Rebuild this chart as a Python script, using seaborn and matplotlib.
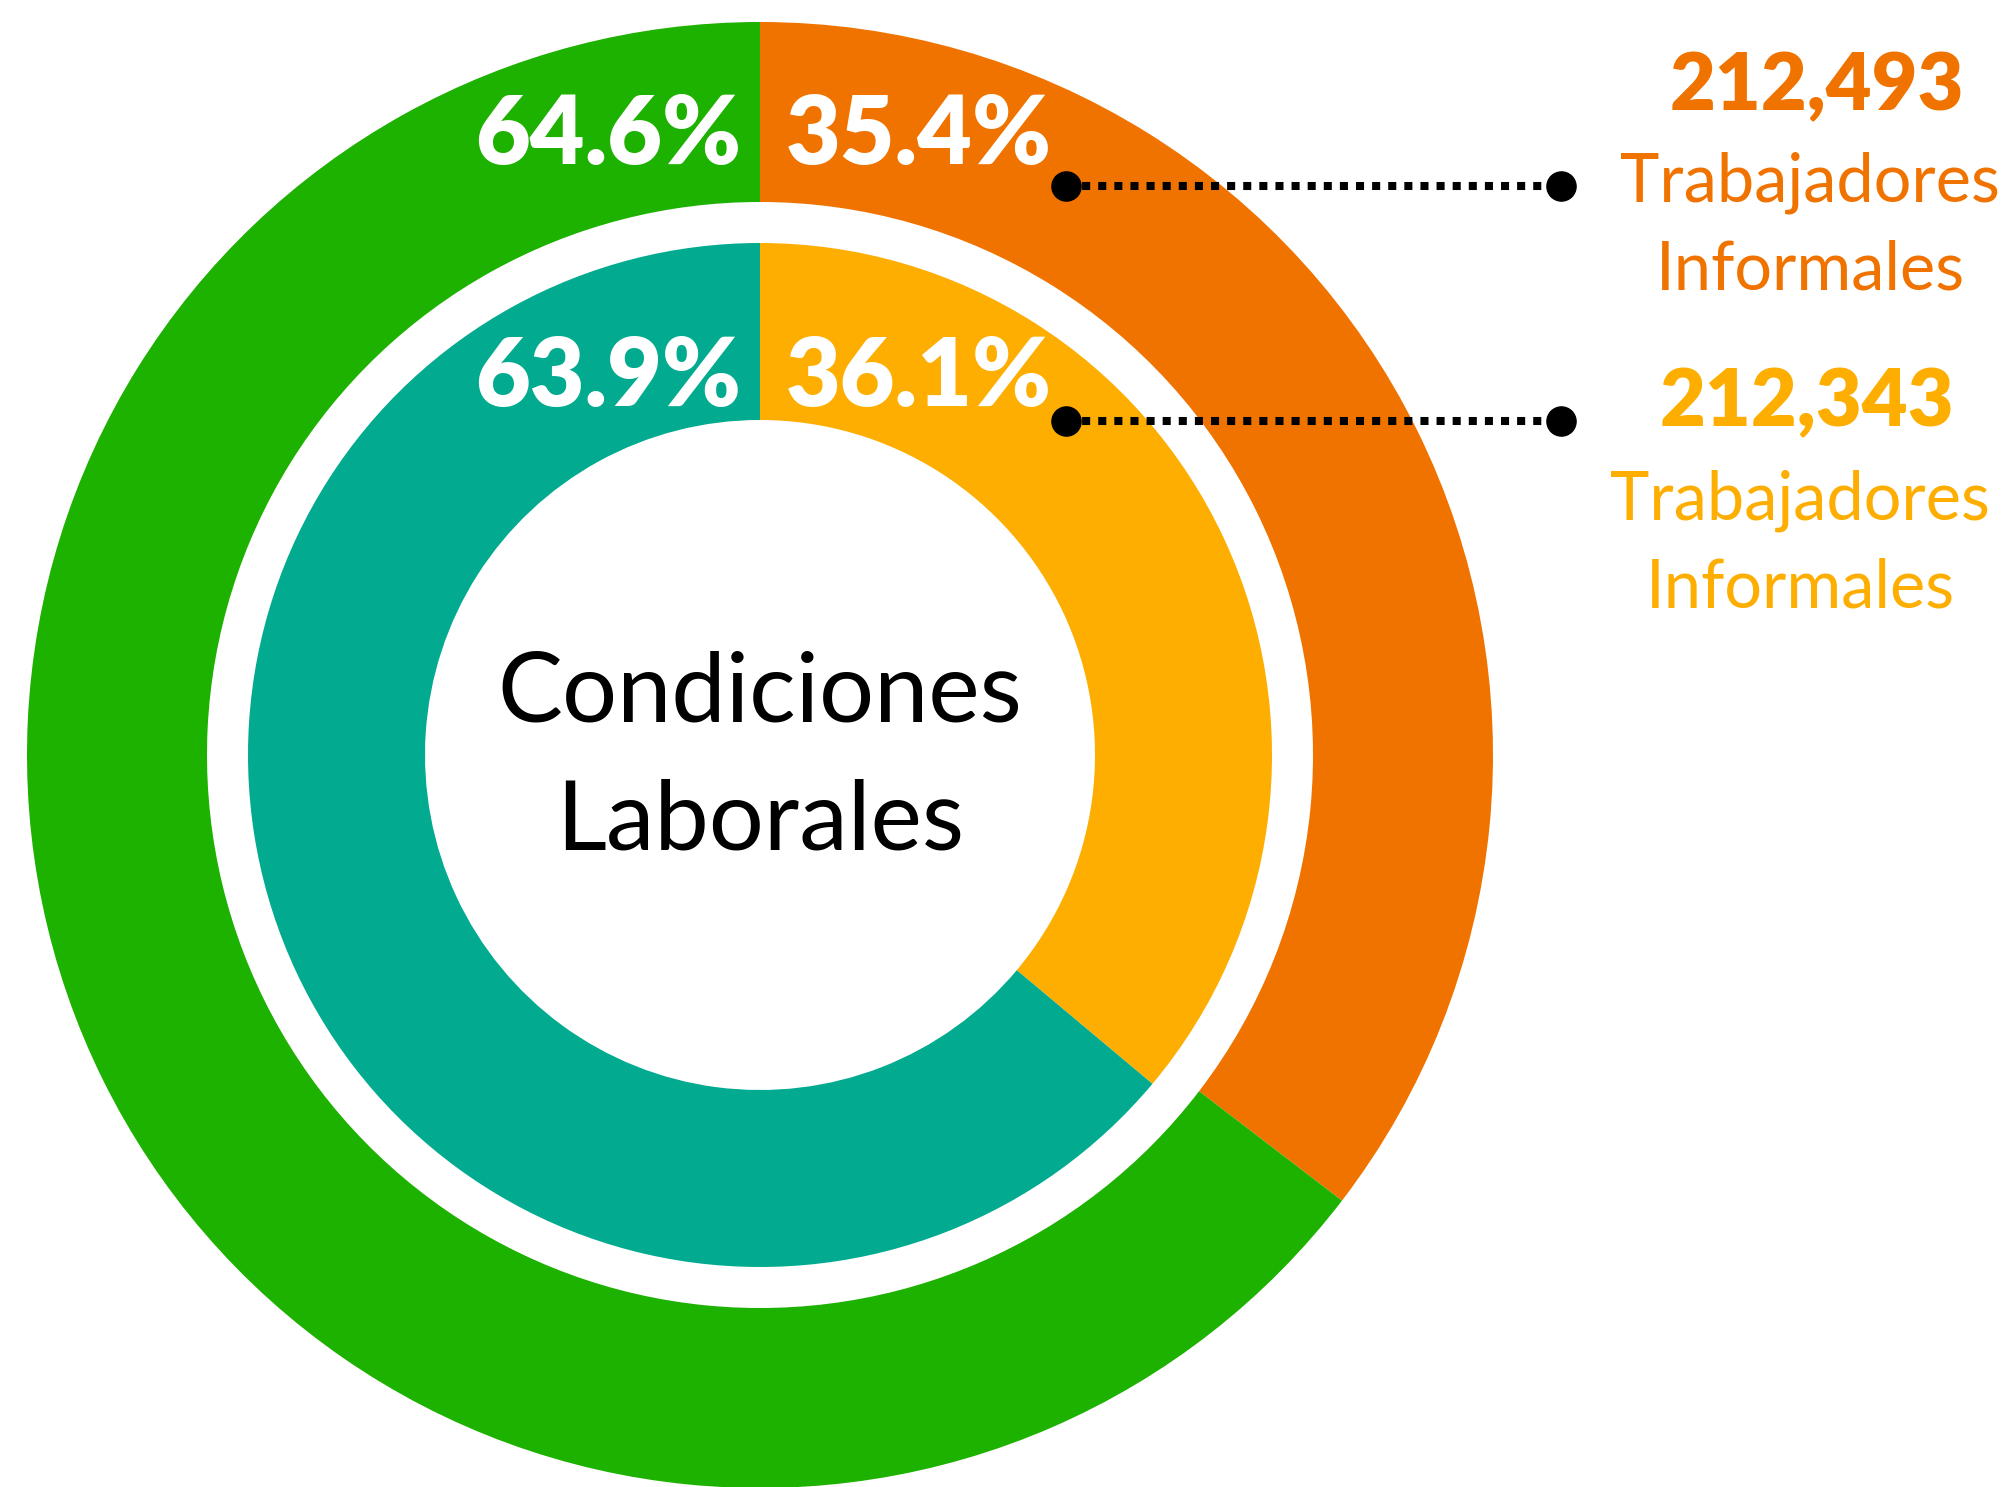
import matplotlib.pyplot as plt
import seaborn as sns

sns.set_theme(style='white')
plt.rcParams['font.family'] = ['Lato', 'DejaVu Sans']

# data
outer_pct = [35.4, 64.6]
inner_pct = [36.1, 63.9]
outer_colors = ['#F07300', '#1DB100']
inner_colors = ['#FDAE00', '#02AB8F']
informal_counts = ['212,493', '212,343']
informal_label = 'Trabajadores\nInformales'
center_label = ['Condiciones', 'Laborales']

W, H = 2013, 1487
fig = plt.figure(figsize=(W / 100, H / 100), dpi=100)
ax = fig.add_axes([0, 0, 1, 1])

cx, cy = 760, H - 755

# outer ring
ax.pie(outer_pct, colors=outer_colors, radius=733, center=(cx, cy),
       startangle=90, counterclock=False, frame=True,
       wedgeprops=dict(width=180, linewidth=0))
# inner ring
ax.pie(inner_pct, colors=inner_colors, radius=512, center=(cx, cy),
       startangle=90, counterclock=False, frame=True,
       wedgeprops=dict(width=177, linewidth=0))
ax.set_xlim(0, W)
ax.set_ylim(0, H)
ax.set_aspect('equal')
ax.axis('off')

# percentage labels
for pcts, y in [(outer_pct, H - 164), (inner_pct, H - 406)]:
    ax.text(741, y, f'{pcts[1]:.1f}%', color='white', fontsize=68,
            fontweight='heavy', ha='right', va='baseline')
    ax.text(786, y, f'{pcts[0]:.1f}%', color='white', fontsize=68,
            fontweight='heavy', ha='left', va='baseline')

# center text
ax.text(cx, H - 721, center_label[0], color='black', fontsize=70,
        ha='center', va='baseline')
ax.text(cx, H - 850, center_label[1], color='black', fontsize=70,
        ha='center', va='baseline')

# connector lines + right labels
rows = [
    dict(line_y=186, num_y=110, num_x=1817, t_y=202, i_y=290, tx=1810, color=outer_colors[0]),
    dict(line_y=421, num_y=426, num_x=1807, t_y=519, i_y=607, tx=1800, color=inner_colors[0]),
]
for r, count in zip(rows, informal_counts):
    ly = H - r['line_y']
    ax.plot([1066, 1561], [ly, ly], color='black', linewidth=5.8,
            linestyle=(0, (1, 1)), dash_capstyle='butt')
    ax.plot([1066, 1561], [ly, ly], linestyle='none', marker='o',
            markersize=21, color='black')
    ax.text(r['num_x'], H - r['num_y'], count, color=r['color'], fontsize=57,
            fontweight='heavy', ha='center', va='baseline')
    words = informal_label.split('\n')
    ax.text(r['tx'], H - r['t_y'], words[0], color=r['color'], fontsize=48,
            ha='center', va='baseline')
    ax.text(r['tx'], H - r['i_y'], words[1], color=r['color'], fontsize=48,
            ha='center', va='baseline')

fig.savefig('out.png', dpi=100, facecolor='white')
